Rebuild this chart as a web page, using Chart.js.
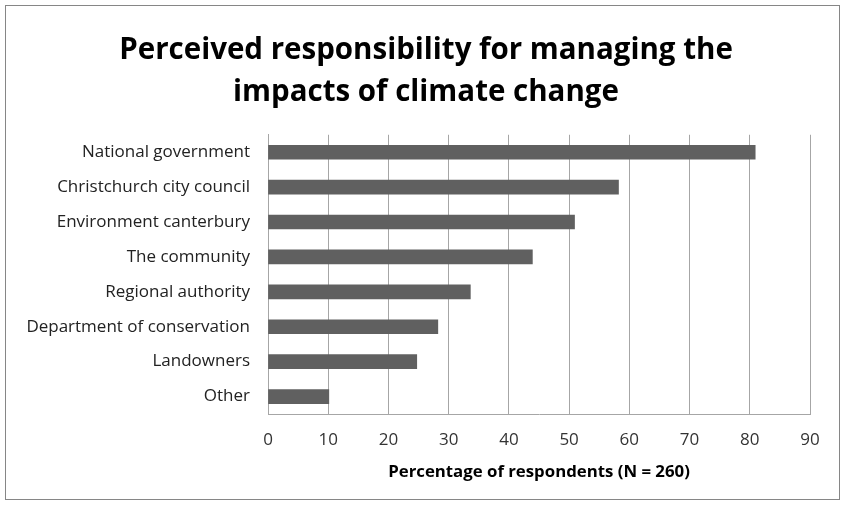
<!DOCTYPE html>
<html>
<head>
<meta charset="utf-8">
<script src="https://cdn.jsdelivr.net/npm/chart.js@4"></script>
<style>
  html, body { margin: 0; padding: 0; background: #fff; }
  #wrap { width: 846px; height: 507px; }
</style>
</head>
<body>
<div id="wrap"><canvas id="myChart" width="846" height="507"></canvas></div>
<script>
const categories = ['National government', 'Christchurch city council', 'Environment canterbury',
  'The community', 'Regional authority', 'Department of conservation', 'Landowners', 'Other'];
const percentages = [80.9, 58.2, 50.9, 43.9, 33.6, 28.2, 24.7, 10.1];
const xTicks = [0, 10, 20, 30, 40, 50, 60, 70, 80, 90];

const fontFamily = "'Open Sans', sans-serif";

// grey frame round the whole chart
const frame = {
  id: 'frame',
  afterDraw(chart) {
    const ctx = chart.ctx;
    ctx.save();
    ctx.strokeStyle = '#868686';
    ctx.lineWidth = 1;
    ctx.strokeRect(5.5, 5.5, 834, 494);
    ctx.restore();
  }
};

new Chart(document.getElementById('myChart'), {
  type: 'bar',
  data: {
    labels: categories,
    datasets: [{
      data: percentages,
      backgroundColor: '#606060',
      barThickness: 14
    }]
  },
  options: {
    indexAxis: 'y',
    responsive: false,
    animation: false,
    layout: { padding: { left: 22, right: 16, top: 14, bottom: 20 } },
    plugins: {
      legend: { display: false },
      tooltip: { enabled: false },
      title: {
        display: true,
        text: ['Perceived responsibility for managing the', 'impacts of climate change'],
        color: '#000',
        font: { family: fontFamily, size: 29.5, weight: 'bold', lineHeight: 1.42 },
        padding: { top: 16, bottom: 21 }
      }
    },
    scales: {
      x: {
        min: 0,
        max: 90,
        afterBuildTicks(axis) { axis.ticks = xTicks.map(v => ({ value: v })); },
        afterFit(axis) { axis.height = 73; },
        grid: { color: '#a6a6a6', drawTicks: false },
        border: { color: '#a6a6a6' },
        ticks: { color: '#333', font: { family: fontFamily, size: 17 }, padding: 16 },
        title: {
          display: true,
          text: 'Percentage of respondents (N = 260)',
          color: '#000',
          font: { family: fontFamily, size: 16.8, weight: 'bold' },
          padding: { top: 4, bottom: 5 }
        }
      },
      y: {
        afterFit(axis) { axis.width = 246; },
        grid: { display: false, drawTicks: false },
        border: { color: '#a6a6a6' },
        ticks: { color: '#222', font: { family: fontFamily, size: 17 }, padding: 18 }
      },
      // empty right-hand margin so the plot ends where the reference does
      spacer: {
        type: 'linear',
        position: 'right',
        display: true,
        afterFit(axis) { axis.width = 20; },
        grid: { display: false },
        border: { display: false },
        ticks: { display: false }
      }
    }
  },
  plugins: [frame]
});
</script>
</body>
</html>
